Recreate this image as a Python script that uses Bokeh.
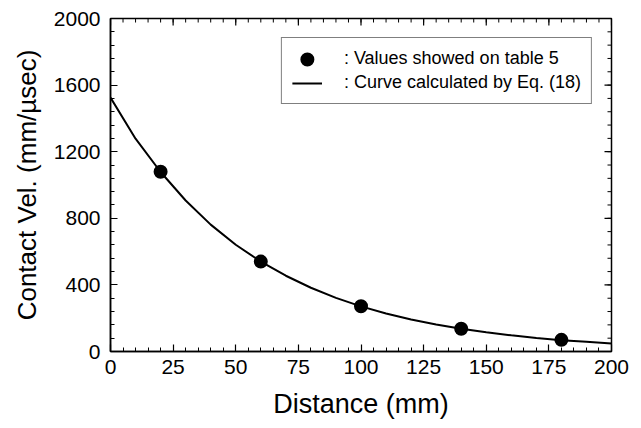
import math
from bokeh.plotting import figure
from bokeh.models import Range1d, SingleIntervalTicker, Legend, LegendItem
from bokeh.embed import file_html
from bokeh.resources import INLINE

# Measured contact velocities (table 5)
distance_pts = [20, 60, 100, 140, 180]
velocity_pts = [1080, 540, 272, 137, 70]

# Curve calculated by Eq. (18), sampled every 10 mm
distance_curve = [0, 10, 20, 30, 40, 50, 60, 70, 80, 90, 100,
                  110, 120, 130, 140, 150, 160, 170, 180, 190, 200]
velocity_curve = [1525, 1278, 1078, 907, 762, 641, 540, 455, 383, 322, 271,
                  228, 192, 162, 136, 115, 97, 81, 68, 58, 48]

# Axis extents and tick spacing
X_MAX, Y_MAX = 200, 2000
X_MAJOR, Y_MAJOR = 25, 400
N_MINOR = 5

FONT = "Liberation Sans"

p = figure(width=641, height=428, output_backend="svg", toolbar_location=None,
           x_range=Range1d(0, X_MAX), y_range=Range1d(0, Y_MAX),
           min_border_left=110, min_border_right=30,
           min_border_top=18, min_border_bottom=77,
           x_axis_label="Distance (mm)", y_axis_label="Contact Vel. (mm/µsec)")

p.background_fill_color = "white"
p.border_fill_color = "white"
p.outline_line_color = "black"
p.outline_line_width = 1.5
p.grid.visible = False

p.xaxis.ticker = SingleIntervalTicker(interval=X_MAJOR, num_minor_ticks=N_MINOR)
p.yaxis.ticker = SingleIntervalTicker(interval=Y_MAJOR, num_minor_ticks=N_MINOR)

for ax in p.xaxis + p.yaxis:
    ax.axis_line_color = "black"
    ax.axis_line_width = 1.5
    ax.major_tick_in = 7
    ax.major_tick_out = 0
    ax.minor_tick_in = 4
    ax.minor_tick_out = 0
    ax.major_tick_line_color = "black"
    ax.minor_tick_line_color = "black"
    ax.major_tick_line_width = 1.2
    ax.minor_tick_line_width = 1
    ax.major_label_text_font = FONT
    ax.major_label_text_font_size = "21px"
    ax.major_label_text_color = "black"
    ax.axis_label_text_font = FONT
    ax.axis_label_text_font_style = "normal"
    ax.axis_label_text_color = "black"
p.xaxis.axis_label_text_font_size = "27px"
p.yaxis.axis_label_text_font_size = "26px"
p.xaxis.major_label_standoff = 8
p.yaxis.major_label_standoff = 10
p.xaxis.axis_label_standoff = 12
p.yaxis.axis_label_standoff = 9

# Mirrored inward ticks along the top and right edges (half of each dash is
# clipped away by the frame, leaving an inward tick)
x_major = [X_MAJOR * i for i in range(X_MAX // X_MAJOR + 1)]
y_major = [Y_MAJOR * i for i in range(Y_MAX // Y_MAJOR + 1)]
x_minor = [X_MAJOR / N_MINOR * i for i in range(X_MAX * N_MINOR // X_MAJOR + 1)]
y_minor = [Y_MAJOR / N_MINOR * i for i in range(Y_MAX * N_MINOR // Y_MAJOR + 1)]

p.scatter(x_major, [Y_MAX] * len(x_major), marker="dash", size=14,
          angle=math.pi / 2, line_color="black", line_width=1.2)
p.scatter(x_minor, [Y_MAX] * len(x_minor), marker="dash", size=8,
          angle=math.pi / 2, line_color="black", line_width=1)
p.scatter([X_MAX] * len(y_major), y_major, marker="dash", size=14,
          line_color="black", line_width=1.2)
p.scatter([X_MAX] * len(y_minor), y_minor, marker="dash", size=8,
          line_color="black", line_width=1)

curve = p.line(distance_curve, velocity_curve, line_color="black", line_width=2)
# small dot with a thick outline: about 14 px across both on the plot and
# in the legend swatch
pts = p.scatter(distance_pts, velocity_pts, size=8, marker="circle",
                fill_color="black", line_color="black", line_width=6)

legend = Legend(items=[
    LegendItem(label=": Values showed on table 5", renderers=[pts]),
    LegendItem(label=": Curve calculated by Eq. (18)", renderers=[curve]),
], location="top_right")
legend.margin = 19
legend.padding = 10
legend.spacing = 3
legend.glyph_width = 30
legend.glyph_height = 20
legend.label_height = 20
legend.label_standoff = 22
legend.label_text_font = FONT
legend.label_text_font_size = "18px"
legend.label_text_color = "black"
legend.border_line_color = "black"
legend.border_line_width = 1.2
legend.background_fill_color = "white"
legend.background_fill_alpha = 1
p.add_layout(legend, "center")

open("out.html", "w").write(file_html(p, INLINE))
